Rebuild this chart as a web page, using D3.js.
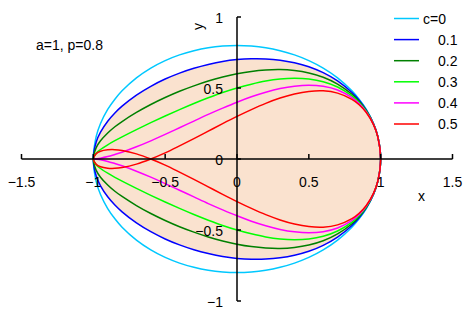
<!DOCTYPE html>
<html>
<head>
<meta charset="utf-8">
<script src="https://cdn.jsdelivr.net/npm/d3@7"></script>
<style>
  html, body { margin: 0; padding: 0; background: #fff; }
  svg { display: block; }
  text { font-family: "Liberation Sans", Arial, sans-serif; font-size: 14px; fill: #000; }
</style>
</head>
<body>
<svg id="chart" width="473" height="318"></svg>
<script>
// ---- data (upper half; curves are symmetric about the x axis) ----
const xs = [-1,-0.98,-0.95,-0.9,-0.85,-0.8,-0.7,-0.6,-0.5,-0.4,-0.3,-0.2,-0.1,0,0.1,0.2,0.3,0.4,0.5,0.6,0.7,0.8,0.85,0.9,0.95,0.98,1];
const cLabels = ["c=0", "0.1", "0.2", "0.3", "0.4", "0.5"];
const halfC0  = [0,0.159,0.250,0.349,0.421,0.48,0.571,0.64,0.693,0.733,0.763,0.784,0.796,0.8,0.796,0.784,0.763,0.733,0.693,0.64,0.571,0.48,0.421,0.349,0.250,0.159,0];
const halfC01 = [0,0.120,0.189,0.266,0.324,0.372,0.450,0.512,0.563,0.605,0.639,0.666,0.687,0.70,0.706,0.705,0.696,0.678,0.650,0.608,0.550,0.468,0.414,0.344,0.248,0.159,0];
const halfC02 = [0,0.080,0.128,0.183,0.227,0.264,0.328,0.384,0.433,0.477,0.515,0.549,0.577,0.6,0.617,0.627,0.630,0.623,0.606,0.576,0.528,0.456,0.406,0.340,0.247,0.158,0];
const halfC03 = [0,0.041,0.067,0.100,0.129,0.156,0.207,0.256,0.303,0.348,0.391,0.431,0.468,0.5,0.527,0.549,0.563,0.568,0.563,0.544,0.507,0.444,0.398,0.336,0.245,0.158,0];
const halfC04 = [0,0.002,0.006,0.017,0.032,0.048,0.086,0.128,0.173,0.220,0.267,0.314,0.358,0.4,0.438,0.470,0.496,0.513,0.520,0.512,0.486,0.432,0.390,0.331,0.244,0.158,0];
const halfC05 = [0,-0.038,-0.055,-0.065,-0.066,-0.060,-0.036,0,0.043,0.092,0.143,0.196,0.249,0.3,0.348,0.392,0.429,0.458,0.476,0.48,0.464,0.42,0.382,0.327,0.242,0.157,0];
const xTicks = [-1.5,-1,-0.5,0,0.5,1,1.5];
const xTickLabels = ["\u22121.5","\u22121","\u22120.5","0","0.5","1","1.5"];
const yTicks = [-1,-0.5,0,0.5,1];
const yTickLabels = ["\u22121","\u22120.5","0","0.5","1"];
const note = "a=1, p=0.8";

const series = [halfC0, halfC01, halfC02, halfC03, halfC04, halfC05];
const colors = ["#00c8ff", "#0000ff", "#008000", "#00ff00", "#ff00ff", "#ff0000"];

const svg = d3.select("#chart");
const x = d3.scaleLinear().domain([-1.5, 1.5]).range([21.5, 452.5]);
const y = d3.scaleLinear().domain([-1, 1]).range([301, 17]);

function loop(half) {
  const upper = xs.map((v, i) => [v, half[i]]);
  const lower = xs.map((v, i) => [v, -half[i]]).slice(1, -1).reverse();
  return upper.concat(lower);
}
const line = d3.line().x(d => x(d[0])).y(d => y(d[1])).curve(d3.curveCatmullRomClosed.alpha(0.5));

// fill (inside c=0.1 curve)
svg.append("path").attr("d", line(loop(halfC01))).attr("fill", "#fae2cf").attr("stroke", "none");

// curves
series.forEach((s, i) => {
  svg.append("path").attr("d", line(loop(s)))
    .attr("fill", "none").attr("stroke", colors[i]).attr("stroke-width", 1.5);
});

// axes
const ax = svg.append("g").attr("stroke", "#000").attr("stroke-width", 1.5);
ax.append("line").attr("x1", x(-1.5)).attr("x2", x(1.5)).attr("y1", y(0)).attr("y2", y(0));
ax.append("line").attr("x1", x(0)).attr("x2", x(0)).attr("y1", y(1)).attr("y2", y(-1));
xTicks.forEach(t => ax.append("line").attr("x1", x(t)).attr("x2", x(t)).attr("y1", y(0)).attr("y2", y(0) - 5));
yTicks.forEach(t => ax.append("line").attr("x1", x(0)).attr("x2", x(0) + 4).attr("y1", y(t)).attr("y2", y(t)));

xTicks.forEach((t, i) => svg.append("text").attr("x", x(t)).attr("y", y(0) + 28)
  .attr("text-anchor", "middle").text(xTickLabels[i]));
yTicks.forEach((t, i) => svg.append("text").attr("x", x(0) - 14).attr("y", y(t) + 5.5)
  .attr("text-anchor", "end").text(yTickLabels[i]));

// axis titles
svg.append("text").attr("x", 421.5).attr("y", 201).attr("text-anchor", "middle").text("x");
svg.append("text").attr("transform", "translate(203,26.5) rotate(-90)").attr("text-anchor", "middle").text("y");

// annotation
svg.append("text").attr("x", 36).attr("y", 50).text(note);

// legend
cLabels.forEach((lab, i) => {
  const ly = 18.5 + i * 21.1;
  svg.append("line").attr("x1", 394).attr("x2", 419).attr("y1", ly).attr("y2", ly)
    .attr("stroke", colors[i]).attr("stroke-width", 1.5);
  svg.append("text").attr("x", i === 0 ? 423 : 438).attr("y", ly + 5).text(lab);
});
</script>
</body>
</html>
